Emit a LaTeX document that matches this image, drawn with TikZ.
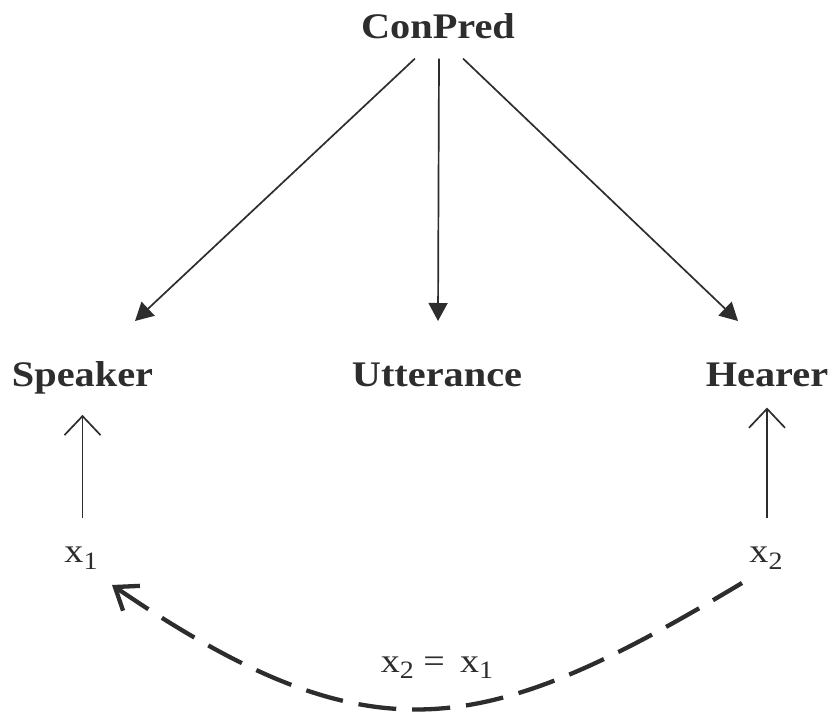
\documentclass[tikz,border=0pt]{standalone}
\usepackage{fontspec}
\setmainfont{Liberation Serif}[FakeStretch=1.12]
\usetikzlibrary{arrows.meta}
\definecolor{ink}{RGB}{45,45,45}
\newcommand\sbs[1]{\raisebox{-6pt}{\fontsize{25}{25}\selectfont #1}}
\begin{document}
\begin{tikzpicture}[x=1pt,y=1pt,
  lbl/.style={inner sep=0pt,anchor=base,text=ink,font=\fontsize{36}{36}\selectfont\bfseries},
  var/.style={inner sep=0pt,anchor=base,text=ink,font=\fontsize{34}{34}\selectfont},
  arr/.style={draw=ink,line width=1.7pt,-{Triangle[length=18pt,width=19pt]}},
  uparr/.style={draw=ink,line width=1.7pt,-{Straight Barb[length=19pt,width=36pt]}},
  dashline/.style={draw=ink,line width=4.3pt,dash pattern=on 38pt off 16pt,{Straight Barb[length=20pt,width=30pt]}-}]
\useasboundingbox (0,0) rectangle (833,713);
\node[lbl] (cp) at (438,674) {ConPred};
\node[lbl] (spk) at (82.5,326) {Speaker};
\node[lbl] (utt) at (437,326) {Utterance};
\node[lbl] (hr) at (767,326) {Hearer};
\node[var] (x1) at (81,150) {x\sbs{1}};
\node[var] (x2) at (766,150) {x\sbs{2}};
\node[var] (eq) at (437,41) {x\sbs{2} = \,x\sbs{1}};
\coordinate (tL) at (135,392);
\coordinate (tM) at (438,392);
\coordinate (tR) at (738,392);
\draw[arr] ([xshift=-23pt,yshift=-19pt]cp.south) -- (tL);
\draw[arr] ([xshift=1pt,yshift=-19pt]cp.south) -- (tM);
\draw[arr] ([xshift=25pt,yshift=-19pt]cp.south) -- (tR);
\draw[uparr] ([yshift=29pt]x1.north -| spk.south) -- ([yshift=-20pt]spk.south);
\draw[uparr] ([yshift=29pt]x2.north -| hr.south) -- ([yshift=-20pt]hr.south);
\coordinate (dA) at (112,128);
\coordinate (dB) at (742,130);
\draw[dashline] (dA) .. controls (372,-49) and (482,-26) .. (dB);
\end{tikzpicture}
\end{document}
